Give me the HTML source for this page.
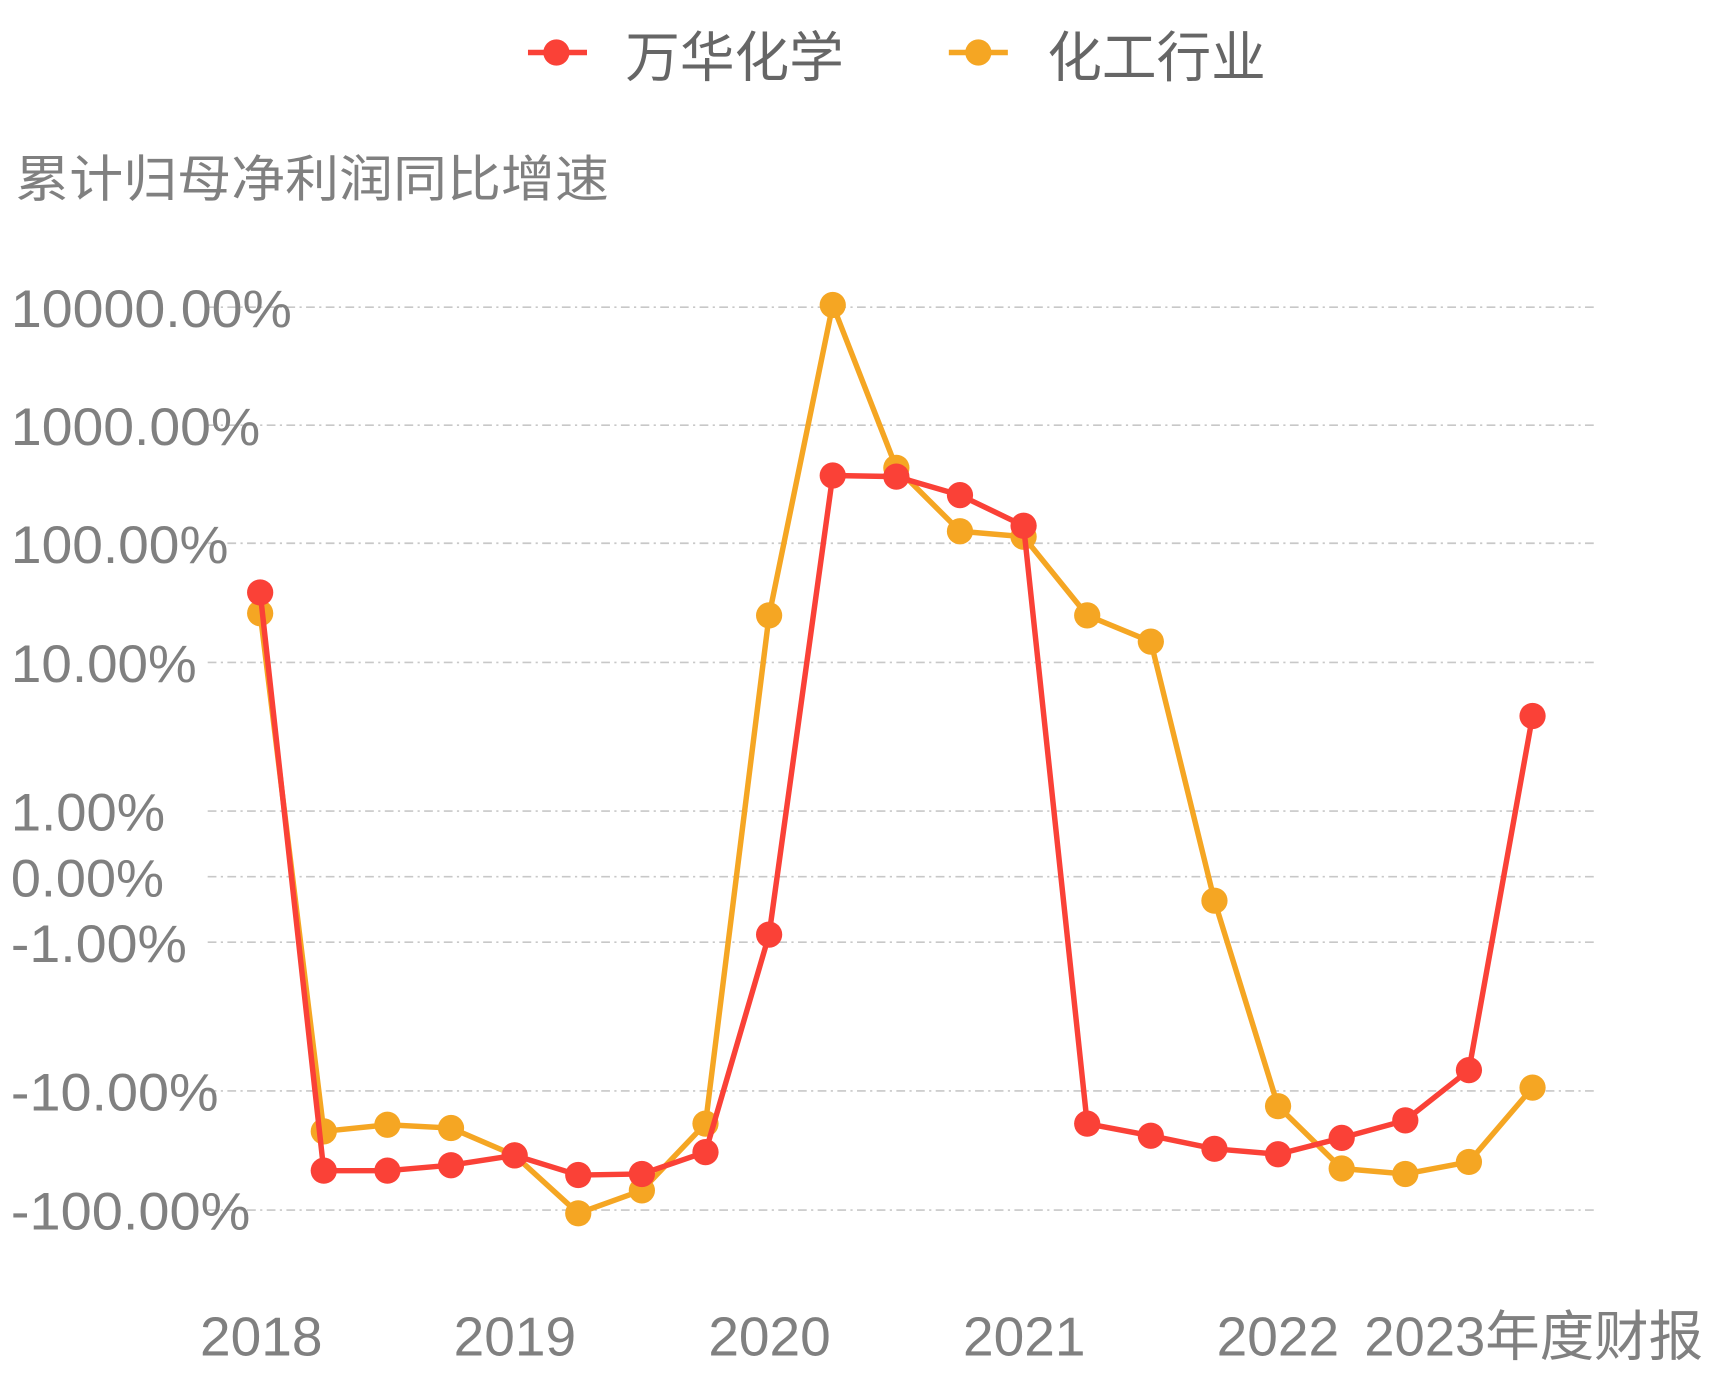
<!DOCTYPE html>
<html><head><meta charset="utf-8"><style>html,body{margin:0;padding:0;background:#fff}svg{display:block}</style></head>
<body>
<svg width="1714" height="1380" viewBox="0 0 1568 1262.5" preserveAspectRatio="none" xmlns="http://www.w3.org/2000/svg" font-family="'Liberation Sans','Noto Sans CJK SC',sans-serif">
<g stroke="#c8c8c8" stroke-width="1.5" stroke-dasharray="8,4,2,4">
<line x1="190" x2="1462" y1="281" y2="281"/><line x1="190" x2="1462" y1="389" y2="389"/>
<line x1="190" x2="1462" y1="497" y2="497"/><line x1="190" x2="1462" y1="606" y2="606"/>
<line x1="190" x2="1462" y1="742" y2="742"/><line x1="190" x2="1462" y1="802" y2="802"/>
<line x1="190" x2="1462" y1="862" y2="862"/><line x1="190" x2="1462" y1="998" y2="998"/>
<line x1="190" x2="1462" y1="1107" y2="1107"/>
</g>
<g fill="#808080" font-size="48" lengthAdjust="spacingAndGlyphs">
<text x="10" y="299" textLength="257" lengthAdjust="spacingAndGlyphs">10000.00%</text>
<text x="10" y="407" textLength="228" lengthAdjust="spacingAndGlyphs">1000.00%</text>
<text x="10" y="515" textLength="199" lengthAdjust="spacingAndGlyphs">100.00%</text>
<text x="10" y="624" textLength="170" lengthAdjust="spacingAndGlyphs">10.00%</text>
<text x="10" y="760" textLength="141" lengthAdjust="spacingAndGlyphs">1.00%</text>
<text x="10" y="820" textLength="140" lengthAdjust="spacingAndGlyphs">0.00%</text>
<text x="10" y="880" textLength="161" lengthAdjust="spacingAndGlyphs">-1.00%</text>
<text x="10" y="1016" textLength="190" lengthAdjust="spacingAndGlyphs">-10.00%</text>
<text x="10" y="1125" textLength="219" lengthAdjust="spacingAndGlyphs">-100.00%</text>
</g>
<text x="14" y="180" fill="#808080" font-size="46" textLength="543" lengthAdjust="spacingAndGlyphs">累计归母净利润同比增速</text>
<g fill="#808080" font-size="50">
<text x="183" y="1240" textLength="112" lengthAdjust="spacingAndGlyphs">2018</text>
<text x="415" y="1240" textLength="112" lengthAdjust="spacingAndGlyphs">2019</text>
<text x="648" y="1240" textLength="112" lengthAdjust="spacingAndGlyphs">2020</text>
<text x="881" y="1240" textLength="112" lengthAdjust="spacingAndGlyphs">2021</text>
<text x="1113" y="1240" textLength="112" lengthAdjust="spacingAndGlyphs">2022</text>
<text x="1248" y="1240" textLength="310" lengthAdjust="spacingAndGlyphs">2023年度财报</text>
</g>
<line x1="483" x2="537" y1="48" y2="48" stroke="#fa4137" stroke-width="5"/><circle cx="509" cy="48" r="12" fill="#fa4137"/>
<text x="572" y="70" fill="#666" font-size="50">万华化学</text>
<line x1="868" x2="922" y1="48" y2="48" stroke="#f5a623" stroke-width="5"/><circle cx="895" cy="48" r="12" fill="#f5a623"/>
<text x="958" y="70" fill="#666" font-size="50">化工行业</text>
<g fill="#f5a623">
<polyline fill="none" stroke="#f5a623" stroke-width="5" stroke-linejoin="round" points="238,561 296.2,1035 354.4,1029 412.6,1032 470.8,1057 529,1110 587.2,1089 645.4,1028 703.6,563 761.8,279 820,428 878.2,486 936.4,491 994.6,563 1052.8,587 1111,824 1169.2,1012 1227.4,1069 1285.6,1074 1343.8,1063 1402,995"/>
<circle cx="238" cy="561" r="12"/><circle cx="296.2" cy="1035" r="12"/><circle cx="354.4" cy="1029" r="12"/><circle cx="412.6" cy="1032" r="12"/><circle cx="470.8" cy="1057" r="12"/><circle cx="529" cy="1110" r="12"/><circle cx="587.2" cy="1089" r="12"/><circle cx="645.4" cy="1028" r="12"/><circle cx="703.6" cy="563" r="12"/><circle cx="761.8" cy="279" r="12"/><circle cx="820" cy="428" r="12"/><circle cx="878.2" cy="486" r="12"/><circle cx="936.4" cy="491" r="12"/><circle cx="994.6" cy="563" r="12"/><circle cx="1052.8" cy="587" r="12"/><circle cx="1111" cy="824" r="12"/><circle cx="1169.2" cy="1012" r="12"/><circle cx="1227.4" cy="1069" r="12"/><circle cx="1285.6" cy="1074" r="12"/><circle cx="1343.8" cy="1063" r="12"/><circle cx="1402" cy="995" r="12"/>
</g>
<g fill="#fa4137">
<polyline fill="none" stroke="#fa4137" stroke-width="5" stroke-linejoin="round" points="238,542 296.2,1071 354.4,1071 412.6,1066 470.8,1057 529,1075 587.2,1074 645.4,1054 703.6,855 761.8,435 820,436 878.2,453 936.4,481 994.6,1028 1052.8,1039 1111,1051 1169.2,1056 1227.4,1041 1285.6,1025 1343.8,979 1402,655"/>
<circle cx="238" cy="542" r="12"/><circle cx="296.2" cy="1071" r="12"/><circle cx="354.4" cy="1071" r="12"/><circle cx="412.6" cy="1066" r="12"/><circle cx="470.8" cy="1057" r="12"/><circle cx="529" cy="1075" r="12"/><circle cx="587.2" cy="1074" r="12"/><circle cx="645.4" cy="1054" r="12"/><circle cx="703.6" cy="855" r="12"/><circle cx="761.8" cy="435" r="12"/><circle cx="820" cy="436" r="12"/><circle cx="878.2" cy="453" r="12"/><circle cx="936.4" cy="481" r="12"/><circle cx="994.6" cy="1028" r="12"/><circle cx="1052.8" cy="1039" r="12"/><circle cx="1111" cy="1051" r="12"/><circle cx="1169.2" cy="1056" r="12"/><circle cx="1227.4" cy="1041" r="12"/><circle cx="1285.6" cy="1025" r="12"/><circle cx="1343.8" cy="979" r="12"/><circle cx="1402" cy="655" r="12"/>
</g>
</svg>
</body></html>
